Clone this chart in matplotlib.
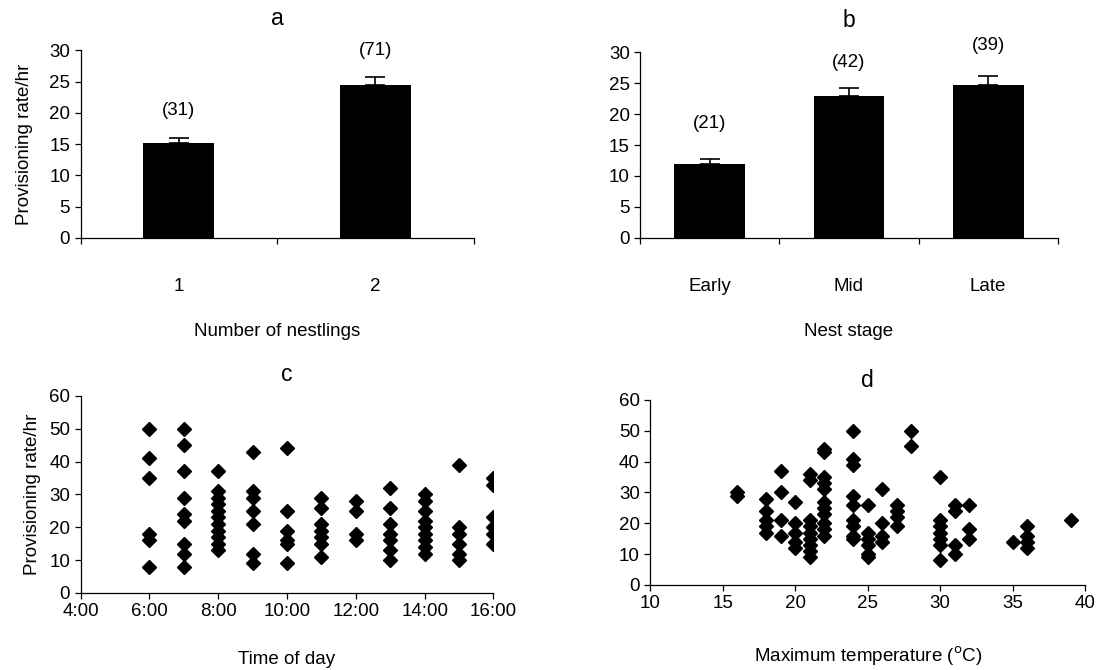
import matplotlib
matplotlib.use("Agg")
import matplotlib.pyplot as plt
import numpy as np

plt.rcParams['font.family'] = ['Liberation Sans', 'DejaVu Sans']

# Panel a
nestlings = ['1', '2']
rate_a = [15.2, 24.5]
err_a = [0.8, 1.2]
n_a = ['(31)', '(71)']
n_a_y = [20.4, 30.0]

# Panel b
stages = ['Early', 'Mid', 'Late']
rate_b = [12.0, 23.0, 24.7]
err_b = [0.7, 1.2, 1.5]
n_b = ['(21)', '(42)', '(39)']
n_b_y = [18.5, 28.4, 31.1]

# Panel c: time of day (hour) -> provisioning rates
hours_c = [6, 7, 8, 9, 10, 11, 12, 13, 14, 15, 16]
rates_c = [
    [50, 41, 35, 18, 16, 8],
    [50, 45, 37, 29, 24, 22, 15, 12, 8],
    [37, 31, 29, 27, 25, 23, 21, 19, 17, 15, 13],
    [43, 31, 29, 25, 21, 12, 9],
    [44, 25, 19, 16, 15, 9],
    [29, 26, 21, 19, 17, 15, 11],
    [28, 25, 18, 16],
    [32, 26, 21, 18, 16, 13, 10],
    [30, 28, 25, 22, 20, 18, 16, 14, 12],
    [39, 20, 18, 15, 12, 10],
    [35, 33, 23, 20, 18, 15],
]
time_ticks = [4, 6, 8, 10, 12, 14, 16]
time_labels = ['4:00', '6:00', '8:00', '10:00', '12:00', '14:00', '16:00']

# Panel d: maximum temperature -> provisioning rates
temps_d = [16, 18, 19, 20, 21, 22, 24, 25, 26, 27, 28, 30, 31, 32, 35, 36, 39]
rates_d = [
    [30, 29],
    [28, 24, 21, 19, 17],
    [37, 30, 21, 16],
    [27, 20, 17, 14, 12],
    [36, 34, 21, 19, 17, 15, 13, 11, 9],
    [44, 43, 35, 33, 31, 27, 25, 23, 20, 18, 16],
    [50, 41, 39, 29, 26, 21, 19, 16, 15],
    [26, 17, 15, 13, 10, 9],
    [31, 20, 16, 14],
    [26, 24, 22, 19],
    [50, 45],
    [35, 21, 19, 17, 15, 13, 8],
    [26, 24, 13, 10],
    [26, 18, 15],
    [14],
    [19, 16, 14, 12],
    [21],
]

FS = 13.5
fig = plt.figure(figsize=(11.04, 6.70), dpi=100)

def style(ax):
    for s in ['top', 'right']:
        ax.spines[s].set_visible(False)
    ax.spines['left'].set_linewidth(0.9)
    ax.spines['bottom'].set_linewidth(0.9)
    ax.tick_params(direction='out', length=4, width=0.9, labelsize=FS)

def bar_panel(ax, cats, vals, errs, labels, label_y, width, title, xlabel, ylabel=None):
    x = np.arange(1, len(cats) + 1)
    ax.bar(x, vals, width=width, color='black', zorder=2)
    ax.errorbar(x, vals, yerr=[np.zeros(len(errs)), errs], fmt='none',
                ecolor='black', elinewidth=1.2, capsize=7, capthick=1.2, zorder=1)
    for xi, lab, ly in zip(x, labels, label_y):
        ax.text(xi, ly, lab, ha='center', va='center', fontsize=FS)
    ax.set_xlim(0.5, len(cats) + 0.5)
    ax.set_ylim(0, 30)
    ax.set_yticks(np.arange(0, 31, 5))
    ax.set_xticks(np.arange(0.5, len(cats) + 1, 1.0))
    ax.set_xticklabels([])
    ax.set_xticks(x, minor=True)
    ax.set_xticklabels(cats, minor=True)
    style(ax)
    ax.tick_params(axis='x', which='minor', length=0, pad=29, labelsize=FS)
    ax.set_title(title, fontsize=FS + 3, pad=18)
    ax.set_xlabel(xlabel, fontsize=FS, labelpad=20)
    if ylabel:
        ax.set_ylabel(ylabel, fontsize=FS, labelpad=12)

ax_a = fig.add_axes([0.073, 0.645, 0.356, 0.28])
bar_panel(ax_a, nestlings, rate_a, err_a, n_a, n_a_y, 0.36, 'a',
          'Number of nestlings', 'Provisioning rate/hr')

ax_b = fig.add_axes([0.580, 0.645, 0.378, 0.277])
bar_panel(ax_b, stages, rate_b, err_b, n_b, n_b_y, 0.51, 'b', 'Nest stage')

ax_c = fig.add_axes([0.073, 0.115, 0.374, 0.294])
for h, rs in zip(hours_c, rates_c):
    ax_c.plot([h] * len(rs), rs, linestyle='none', marker='D', ms=7.2, color='black')
ax_c.set_xlim(4, 16)
ax_c.set_xticks(time_ticks)
ax_c.set_xticklabels(time_labels)
ax_c.set_ylim(0, 60)
ax_c.set_yticks(np.arange(0, 61, 10))
style(ax_c)
ax_c.set_title('c', fontsize=FS + 3, pad=11)
ax_c.set_xlabel('Time of day', fontsize=FS, labelpad=22)
ax_c.set_ylabel('Provisioning rate/hr', fontsize=FS, labelpad=6)

ax_d = fig.add_axes([0.589, 0.127, 0.394, 0.276])
for t, rs in zip(temps_d, rates_d):
    ax_d.plot([t] * len(rs), rs, linestyle='none', marker='D', ms=7.2, color='black')
ax_d.set_xlim(10, 40)
ax_d.set_xticks(np.arange(10, 41, 5))
ax_d.set_ylim(0, 60)
ax_d.set_yticks(np.arange(0, 61, 10))
style(ax_d)
ax_d.set_title('d', fontsize=FS + 3, pad=9)
ax_d.set_xlabel(r'Maximum temperature ($^{\mathrm{o}}$C)', fontsize=FS, labelpad=23)

fig.savefig('out.png', dpi=100, facecolor='white')
